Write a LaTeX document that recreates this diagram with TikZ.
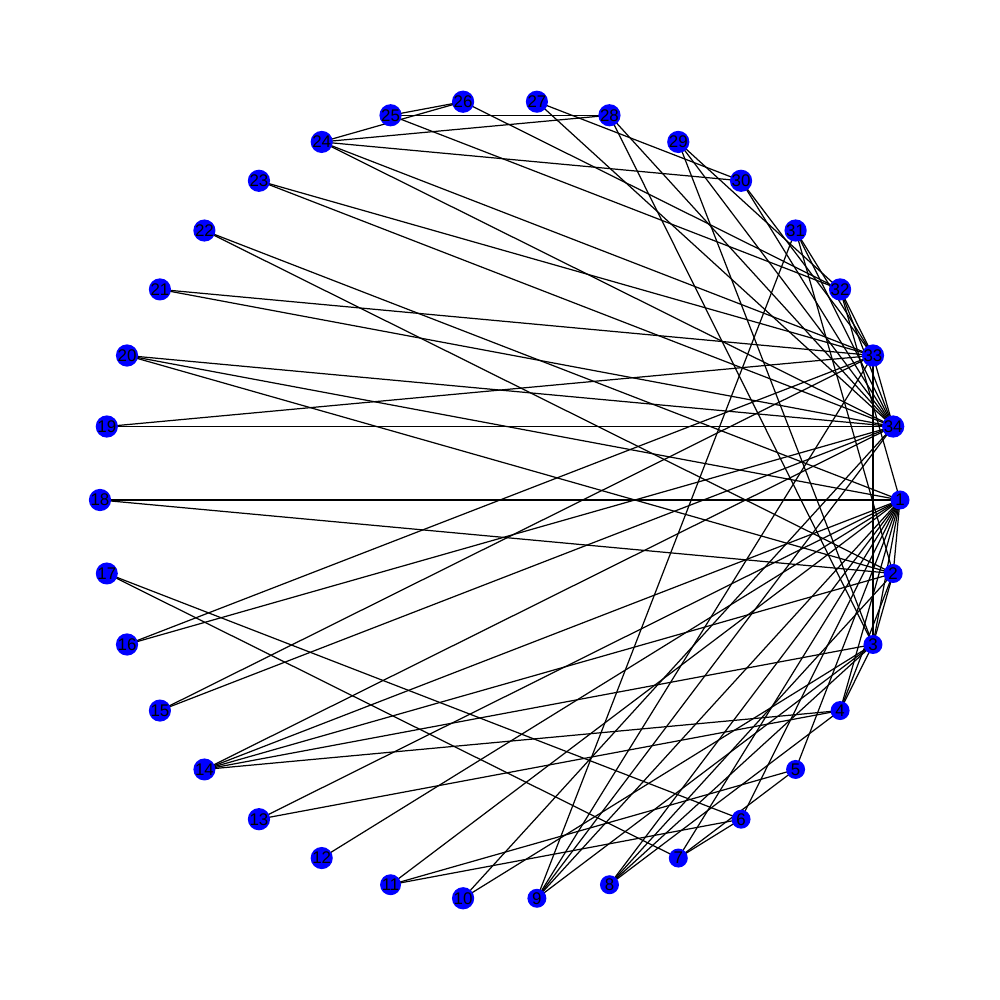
\documentclass[tikz,border=0pt]{standalone}
\usepackage{fontspec}
\setmainfont{Liberation Sans}
\begin{document}
\begin{tikzpicture}
\tikzset{
  vtx/.style={circle, fill=blue, draw=none, minimum size=0.19cm, inner sep=0pt,
    font=\fontsize{4.8pt}{4.8pt}\selectfont, text=black},
  edge/.style={draw=black, line width=0.35pt}
}
\fill[white] (-5,-5) rectangle (5,5);
\useasboundingbox (-5,-5) rectangle (5,5);
\foreach \k in {1,...,34}{
  \coordinate (c\k) at ({-(\k-1)*360/34}:4);
}
\foreach \a/\b in {1/2,1/3,1/4,1/5,1/6,1/7,1/8,1/9,1/11,1/12,1/13,1/14,1/18,1/20,1/22,1/32,
  2/3,2/4,2/8,2/14,2/18,2/20,2/22,2/31,
  3/4,3/8,3/9,3/10,3/14,3/28,3/29,3/33,
  4/8,4/13,4/14,5/7,5/11,6/7,6/11,6/17,7/17,
  9/31,9/33,9/34,10/34,14/34,15/33,15/34,16/33,16/34,19/33,19/34,20/34,21/33,21/34,
  23/33,23/34,24/26,24/28,24/30,24/33,24/34,25/26,25/28,25/32,26/32,27/30,27/34,
  28/34,29/32,29/34,30/33,30/34,31/33,31/34,32/33,32/34,33/34}{
  \draw[edge] (c\a) -- (c\b);
}
\foreach \k in {1,...,34}{
  \node[vtx] (n\k) at (c\k) {\k};
}
\end{tikzpicture}
\end{document}
